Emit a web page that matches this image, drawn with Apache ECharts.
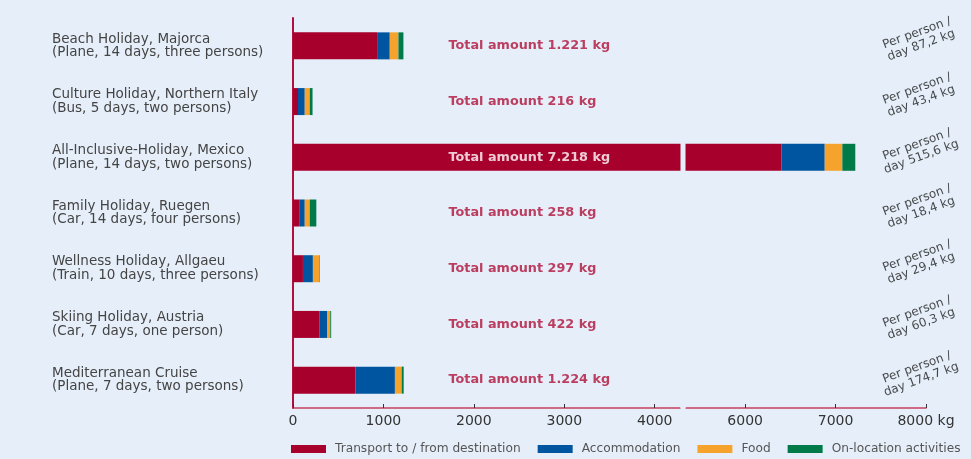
<!DOCTYPE html>
<html>
<head>
<meta charset="utf-8">
<script src="https://cdn.jsdelivr.net/npm/echarts@6/dist/echarts.min.js"></script>
<style>
  html, body { margin: 0; padding: 0; background: #e6eff9; }
  #chart { width: 971px; height: 459px; }
</style>
</head>
<body>
<div id="chart"></div>
<script>
// holidays (top to bottom)
const holidays = [
    'Beach Holiday, Majorca\n(Plane, 14 days, three persons)',
    'Culture Holiday, Northern Italy\n(Bus, 5 days, two persons)',
    'All-Inclusive-Holiday, Mexico\n(Plane, 14 days, two persons)',
    'Family Holiday, Ruegen\n(Car, 14 days, four persons)',
    'Wellness Holiday, Allgaeu\n(Train, 10 days, three persons)',
    'Skiing Holiday, Austria\n(Car, 7 days, one person)',
    'Mediterranean Cruise\n(Plane, 7 days, two persons)'
]

// kg CO2 per part of the trip
const transport     = [930, 55, 6400, 75, 110, 295, 690]
const accommodation = [140, 75, 480, 55, 110, 85, 437]
const food          = [96, 55, 195, 55, 72, 32, 75]
const activities    = [55, 31, 143, 73, 5, 10, 22]

const totals    = ['1.221', '216', '7.218', '258', '297', '422', '1.224']
const perPerson = ['87,2', '43,4', '515,6', '18,4', '29,4', '60,3', '174,7']

// axis is broken between 4000 and 6000
const xTicks = [0, 1000, 2000, 3000, 4000, 6000, 7000, 8000]

let myChart = echarts.init(document.getElementById('chart'))

const bg = '#e6eff9'
const red = '#a8002d', blue = '#0055a0', orange = '#f5a32d', green = '#007a48'

function barSeries(name, data, color) {
    return {
        name: name,
        type: 'bar',
        stack: 'total',
        data: data,
        barWidth: 27,
        itemStyle: { color: color },
        emphasis: { disabled: true }
    }
}

let option = {
    animation: false,
    backgroundColor: bg,
    textStyle: { fontFamily: 'DejaVu Sans' },
    grid: { left: 293, right: 45, top: 18, bottom: 51, outerBoundsMode: 'none' },
    legend: {
        data: ['Transport to / from destination', 'Accommodation', 'Food', 'On-location activities'],
        left: 286,
        top: 438,
        icon: 'rect',
        itemWidth: 35,
        itemHeight: 8,
        itemGap: 17,
        textStyle: { color: '#555', fontSize: 12.2, padding: [0, 0, 0, 4] }
    },
    xAxis: {
        type: 'value',
        min: 0,
        max: 8000,
        interval: 1000,
        breaks: [{ start: 4280, end: 5340, gap: 60 }],
        breakArea: {
            show: true,
            zigzagAmplitude: 0,
            itemStyle: { color: bg, borderWidth: 0, opacity: 1 }
        },
        axisLine: { show: true, lineStyle: { color: '#c8405e', width: 1.5 } },
        axisTick: { show: true, inside: true, length: 4, customValues: xTicks, lineStyle: { color: '#333' } },
        axisLabel: {
            color: '#333',
            fontSize: 14,
            margin: 6,
            customValues: xTicks,
            formatter: function (v) {
                if (xTicks.indexOf(v) < 0) return ''
                return v === 8000 ? v + ' kg' : String(v)
            }
        },
        splitLine: { show: false }
    },
    yAxis: {
        type: 'category',
        inverse: true,
        data: holidays,
        axisLine: { show: true, lineStyle: { color: '#b01040', width: 2 } },
        axisTick: { show: false },
        axisLabel: {
            align: 'left',
            margin: 241,
            color: '#444',
            fontSize: 13.5,
            lineHeight: 13.5
        }
    },
    series: [
        barSeries('Transport to / from destination', transport, red),
        barSeries('Accommodation', accommodation, blue),
        barSeries('Food', food, orange),
        barSeries('On-location activities', activities, green),
        {
            // "Total amount" labels
            type: 'scatter',
            symbolSize: 0,
            silent: true,
            z: 10,
            data: totals.map(function (t, i) { return [1720, i] }),
            label: {
                show: true,
                position: 'right',
                distance: 0,
                fontWeight: 'bold',
                fontSize: 12.8,
                color: '#b0103a',
                formatter: function (p) {
                    return 'Total amount ' + totals[p.dataIndex] + ' kg'
                }
            }
        },
        {
            // per person / day labels
            type: 'scatter',
            symbolSize: 0,
            silent: true,
            data: perPerson.map(function (t, i) { return [7950, i] }),
            label: {
                show: true,
                position: 'inside',
                rotate: 20,
                offset: [0, -7],
                fontSize: 12,
                lineHeight: 13,
                color: '#1a1a1a',
                formatter: function (p) {
                    return 'Per person /\nday ' + perPerson[p.dataIndex] + ' kg'
                }
            }
        }
    ]
}
// white text on the long Mexico bar
option.series[4].data[2] = { value: [1720, 2], label: { color: '#ffffff' } }

myChart.setOption(option)
</script>
</body>
</html>
